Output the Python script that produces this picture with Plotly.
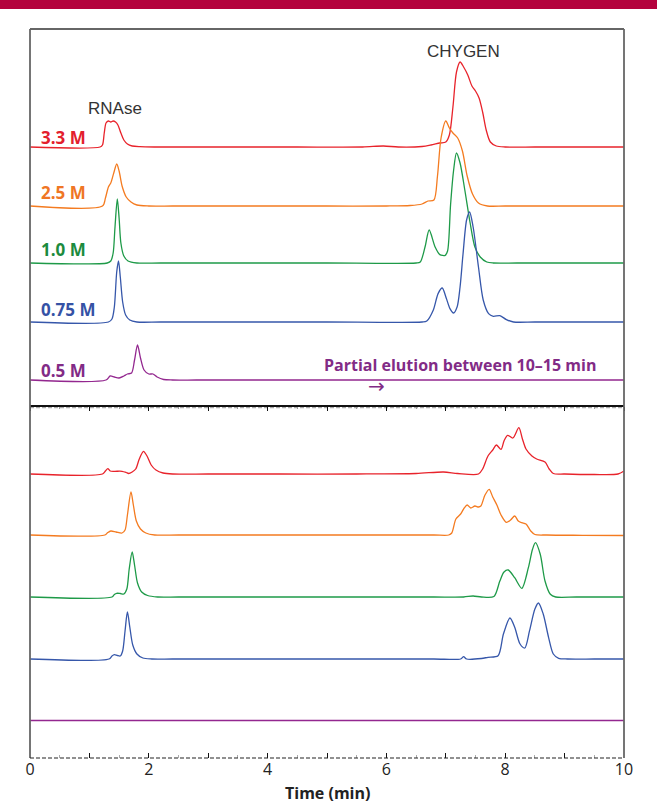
import plotly.graph_objects as go

# ---------------- data (time in min, signal heights in relative units) ----------------
labels = ["3.3 M", "2.5 M", "1.0 M", "0.75 M", "0.5 M"]
line_colors = ["#E8232B", "#F47B20", "#1E9A48", "#3657AA", "#93278F"]
label_colors = ["#E3202D", "#EF7625", "#1C8B3E", "#3552A5", "#822B86"]

# vertical stacking offsets of each trace (red, orange, green, blue, purple)
top_offsets = [258, 199, 142, 83, 25]
bottom_offsets = [284, 223, 161, 99, 37.5]

# ---- top panel ----
top_red_t = [0, 1.18, 1.22, 1.25, 1.28, 1.32, 1.36, 1.40, 1.44, 1.48, 1.53, 1.58, 1.64, 1.72, 1.85, 2.1,
             2.6, 3.5, 4.5, 5.6, 5.95, 6.2, 6.6, 6.75, 6.9, 7.0, 7.06, 7.12, 7.18, 7.24, 7.30, 7.37, 7.44,
             7.5, 7.56, 7.62, 7.68, 7.75, 7.85, 8.0, 8.5, 9.2, 10]
top_red_v = [0, 0, 2, 14, 24, 26, 25, 26, 25, 22, 14, 7, 3, 1, 0.3, 0,
             0, 0, 0, 0, 1, 0, 0.5, 2, 4, 5, 12, 40, 75, 85, 80, 72, 61,
             56, 49, 35, 17, 5, 1, 0, 0, 0, 0]

top_orange_t = [0, 1.22, 1.27, 1.32, 1.36, 1.41, 1.46, 1.50, 1.55, 1.62, 1.70, 1.8, 2.0,
                2.4, 3.5, 5.0, 6.0, 6.4, 6.6, 6.7, 6.8, 6.86, 6.92, 7.0, 7.06, 7.12, 7.2, 7.28, 7.36,
                7.45, 7.55, 7.7, 8.0, 9.0, 10]
top_orange_v = [0, 0, 8, 19, 23, 33, 42, 35, 20, 9, 4, 1, 0,
                0, 0, 0, 0, 0.5, 2, 5, 6, 30, 68, 85, 78, 73, 68, 55, 30,
                12, 3, 0, 0, 0, 0]

top_green_t = [0, 1.30, 1.36, 1.40, 1.43, 1.47, 1.50, 1.53, 1.58, 1.65, 1.8, 2.2, 3.5, 5.0,
               6.5, 6.57, 6.65, 6.72, 6.82, 6.9, 6.99, 7.03, 7.08, 7.13, 7.18, 7.24, 7.32, 7.41,
               7.49, 7.58, 7.69, 7.8, 8.2, 9.0, 10]
top_green_v = [0, 0, 2, 10, 35, 64, 45, 20, 7, 2, 0, 0, 0, 0,
               0, 1, 16, 33, 16, 8.4, 7.7, 12, 58, 92, 110, 100, 73, 40,
               16, 6, 1, 0, 0, 0, 0]

top_blue_t = [0, 1.32, 1.38, 1.42, 1.46, 1.49, 1.52, 1.56, 1.61, 1.68, 1.8, 2.2, 3.5, 5.0,
              6.6, 6.68, 6.79, 6.87, 6.94, 7.01, 7.07, 7.13, 7.19, 7.24, 7.29, 7.35, 7.40, 7.46,
              7.55, 7.63, 7.72, 7.8, 7.91, 8.02, 8.14, 8.5, 9.2, 10]
top_blue_v = [0, 0, 3, 15, 50, 61, 45, 20, 7, 2, 0, 0, 0, 0,
              0, 1, 12, 28.4, 34, 23.4, 13.4, 9, 15, 35, 68, 102, 110, 95,
              55, 22, 8.4, 5.7, 6.4, 2.4, 0, 0, 0, 0]

top_purple_t = [0, 1.28, 1.35, 1.42, 1.50, 1.58, 1.64, 1.71, 1.76, 1.81, 1.86, 1.92, 2.0, 2.07, 2.14,
                2.25, 2.4, 2.8, 4.0, 6.0, 8.0, 10]
top_purple_v = [0, 0, 4, 3, 2, 4, 6, 7, 20, 35, 22, 10, 6, 6, 3, 0.5, 0, 0, 0, 0, 0, 0]

# ---- bottom panel ----
bot_red_t = [0, 1.22, 1.27, 1.31, 1.35, 1.42, 1.55, 1.62, 1.66, 1.72, 1.78, 1.84, 1.91, 1.97, 2.04,
             2.12, 2.24, 2.4, 3.0, 4.2, 5.5, 6.5, 6.96, 7.2, 7.55, 7.62, 7.71, 7.79, 7.85, 7.93, 7.98,
             8.04, 8.13, 8.23, 8.29, 8.35, 8.45, 8.53, 8.67, 8.74, 8.81, 9.0, 9.5, 9.9, 10]
bot_red_v = [0, 0, 3, 5.4, 3, 2.7, 2.7, 1.5, 0.5, 2, 5, 15, 22.7, 18, 9,
             4, 1, 0, 0, 0, 0, 0.5, 2, 0.5, 0, 5, 18, 24, 29, 24.7, 33,
             38.7, 36, 46.3, 35, 25, 18, 15, 12, 5, 0.5, 0, -0.5, 0, 3]

bot_orange_t = [0, 1.26, 1.31, 1.36, 1.45, 1.55, 1.60, 1.64, 1.70, 1.74, 1.79, 1.86, 1.95, 2.1,
                2.5, 4.0, 5.5, 6.8, 7.05, 7.1, 7.17, 7.25, 7.31, 7.36, 7.42, 7.49, 7.55, 7.59, 7.66,
                7.73, 7.79, 7.86, 7.93, 8.02, 8.09, 8.16, 8.22, 8.28, 8.35, 8.43, 8.5, 8.7, 9.3, 10]
bot_orange_v = [0, 0, 2.5, 4, 3, 2, 5, 20, 43, 30, 14, 6, 2, 0,
                0, 0, 0, 0, 0, 2, 16, 21, 27, 30, 27, 29, 28, 29, 40,
                45.7, 38, 30, 20, 12.7, 15, 19, 14, 12.3, 11, 4, 0.5, 0, -0.3, -0.5]

bot_green_t = [0, 1.38, 1.42, 1.46, 1.52, 1.58, 1.63, 1.67, 1.72, 1.76, 1.81, 1.88, 1.98, 2.15,
               2.5, 4.0, 5.5, 6.8, 7.3, 7.46, 7.6, 7.81, 7.91, 7.98, 8.05, 8.16, 8.28, 8.39, 8.46,
               8.51, 8.59, 8.67, 8.76, 8.85, 9.2, 10]
bot_green_v = [0, 0, 2.5, 3.7, 3.5, 3, 8, 28, 45, 32, 14, 5, 1.5, 0,
               0, 0, 0, 0, 0, 1, 0, 0.5, 16, 25, 27, 19.3, 8.7, 29.3, 47.7,
               54.3, 42.7, 16, 2.7, 0, 0, 0]

bot_blue_t = [0, 1.33, 1.38, 1.42, 1.47, 1.52, 1.56, 1.60, 1.64, 1.68, 1.73, 1.80, 1.9, 2.05,
              2.4, 4.0, 5.5, 6.8, 7.25, 7.30, 7.35, 7.6, 7.71, 7.88, 7.97, 8.08, 8.16, 8.25, 8.33,
              8.41, 8.50, 8.56, 8.64, 8.73, 8.81, 8.9, 9.05, 9.5, 10]
bot_blue_v = [0, 0, 3, 4.4, 3.5, 3, 8, 28, 47, 32, 14, 5, 1, 0,
              0, 0, 0, 0, 0, 2.3, 0, 0.5, 1.7, 3.3, 25, 41, 31.7, 15, 11,
              28.3, 50, 56, 45, 21.7, 5, 0.7, 0, 0, 0]

bot_purple_t = [0, 10]
bot_purple_v = [0, 0]

x_ticks = [0, 1, 2, 3, 4, 5, 6, 7, 8, 9, 10]
x_tick_text = ["0", "", "2", "", "4", "", "6", "", "8", "", "10"]

# ---------------- figure ----------------
top_series = [(top_red_t, top_red_v), (top_orange_t, top_orange_v), (top_green_t, top_green_v),
              (top_blue_t, top_blue_v), (top_purple_t, top_purple_v)]
bot_series = [(bot_red_t, bot_red_v), (bot_orange_t, bot_orange_v), (bot_green_t, bot_green_v),
              (bot_blue_t, bot_blue_v), (bot_purple_t, bot_purple_v)]

fig = go.Figure()
for i, (t, v) in enumerate(top_series):
    fig.add_trace(go.Scatter(x=t, y=[val + top_offsets[i] for val in v], mode="lines",
                             line=dict(color=line_colors[i], width=1.3, shape="spline", smoothing=0.8),
                             xaxis="x", yaxis="y", hoverinfo="skip", showlegend=False))
for i, (t, v) in enumerate(bot_series):
    fig.add_trace(go.Scatter(x=t, y=[val + bottom_offsets[i] for val in v], mode="lines",
                             line=dict(color=line_colors[i], width=1.3, shape="spline", smoothing=0.8),
                             xaxis="x2", yaxis="y2", hoverinfo="skip", showlegend=False))

W, H = 657, 811
ML, MR, MT, MB = 30, 33, 29, 53
plot_h = H - MT - MB
split = (H - MB - 405) / plot_h

fig.update_layout(
    width=W, height=H, margin=dict(l=ML, r=MR, t=MT, b=MB),
    paper_bgcolor="white", plot_bgcolor="rgba(0,0,0,0)",
    xaxis=dict(domain=[0, 1], range=[0, 10], anchor="y", showgrid=False, zeroline=False,
               showline=True, linecolor="#111", linewidth=1.5,
               tickmode="array", tickvals=x_ticks, showticklabels=False,
               ticks="outside", ticklen=4, tickwidth=1.2, tickcolor="#111",
               minor=dict(tickmode="linear", tick0=0, dtick=0.5, ticks="outside", ticklen=2,
                          tickcolor="#999", tickwidth=1)),
    yaxis=dict(domain=[split, 1], range=[0, 405 - MT], visible=False, fixedrange=True),
    xaxis2=dict(domain=[0, 1], range=[0, 10], anchor="y2", showgrid=False, zeroline=False,
                showline=False, tickmode="array", tickvals=x_ticks, ticktext=x_tick_text,
                ticks="inside", ticklen=5, tickwidth=1.2, tickcolor="#111",
                tickfont=dict(family="Open Sans", size=16, color="#222"),
                minor=dict(tickmode="linear", tick0=0, dtick=0.5, ticks="inside", ticklen=3,
                           tickcolor="#aaa", tickwidth=1)),
    yaxis2=dict(domain=[0, split], range=[0, H - MB - 405], visible=False, fixedrange=True),
)

px = 1.0 / plot_h
shapes = [
    # crimson header band
    dict(type="rect", xref="paper", yref="paper", x0=-ML / 594, x1=1 + MR / 594,
         y0=1 + (MT - 9) * px, y1=1 + (MT + 1) * px, fillcolor="#B4023D", line=dict(width=0), layer="above"),
    # frame
    dict(type="line", xref="paper", yref="paper", x0=0, x1=1, y0=1, y1=1, line=dict(color="#666", width=1.8)),
    dict(type="line", xref="paper", yref="paper", x0=0, x1=0, y0=0, y1=1, line=dict(color="#666", width=1.8)),
    dict(type="line", xref="paper", yref="paper", x0=1, x1=1, y0=0, y1=1, line=dict(color="#666", width=1.8)),
    # grey dashed line under the panel divider
    dict(type="line", xref="paper", yref="paper", x0=0, x1=1, y0=split - 2.6 * px, y1=split - 2.6 * px,
         line=dict(color="#aaa", width=1.2, dash="4px,2px"), layer="below"),
    # dashed bottom time axis
    dict(type="line", xref="paper", yref="paper", x0=0, x1=1, y0=0, y1=0,
         line=dict(color="#222", width=1.2, dash="4px,2px")),
]
fig.update_layout(shapes=shapes)

label_dy = [9.5, 14, 14, 12.5, 10]
ann = []
for i, lab in enumerate(labels):
    ann.append(dict(x=0.15, y=top_offsets[i] + label_dy[i], xref="x", yref="y", text="<b>%s</b>" % lab,
                    showarrow=False, xanchor="left", yanchor="middle",
                    font=dict(family="Open Sans", size=17, color=label_colors[i])))
ann += [
    dict(x=1.43, y=297, xref="x", yref="y", text="RNAse", showarrow=False, xanchor="center",
         yanchor="middle", font=dict(family="Liberation Sans", size=17, color="#333")),
    dict(x=7.30, y=354, xref="x", yref="y", text="CHYGEN", showarrow=False, xanchor="center",
         yanchor="middle", font=dict(family="Liberation Sans", size=17, color="#333")),
    dict(x=4.91, y=40, xref="x", yref="y", text="<b>Partial elution between 10–15 min</b>",
         showarrow=False, xanchor="left", yanchor="middle",
         font=dict(family="Open Sans", size=16, color="#822B86")),
    dict(x=5.84, y=19, xref="x", yref="y", text="→", showarrow=False, xanchor="center",
         yanchor="middle", font=dict(family="DejaVu Sans", size=20, color="#822B86")),
    dict(x=0.5, y=-35 * px, xref="paper", yref="paper", text="<b>Time (min)</b>", showarrow=False,
         xanchor="center", yanchor="middle", font=dict(family="Open Sans", size=16, color="#222")),
]
fig.update_layout(annotations=ann)

fig.write_html("out.html", config={"displayModeBar": False},
               post_script="document.body.style.margin='0px';")
